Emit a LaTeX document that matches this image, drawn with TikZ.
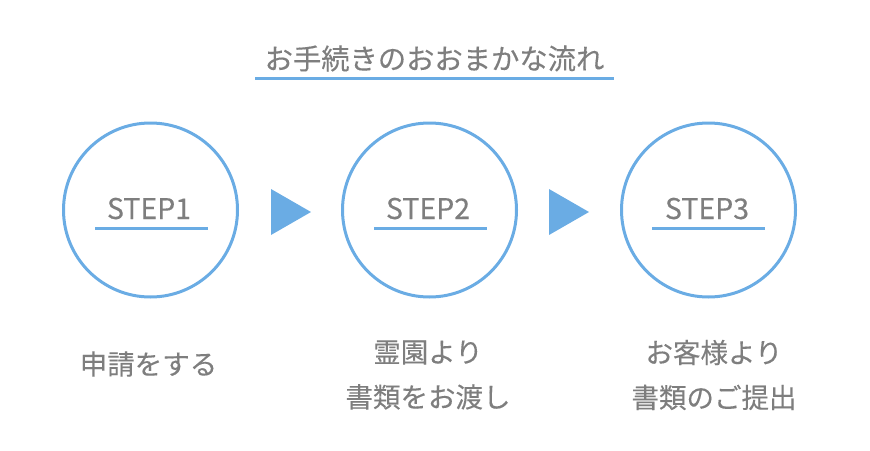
\documentclass[tikz,border=0pt]{standalone}
\usepackage{fontspec}
\setmainfont{Noto Sans CJK JP}
\newfontfamily\jpfont[FakeBold=0.25]{Noto Sans CJK JP}
\definecolor{stepblue}{HTML}{6AACE4}
\definecolor{stepgray}{HTML}{7E7E7E}
\tikzset{
  stepcircle/.style={circle, draw=stepblue, line width=3pt, minimum size=174pt, inner sep=0pt},
  steplabel/.style={text=stepgray, font=\jpfont\fontsize{28.5}{28.5}\selectfont, inner sep=0pt, anchor=base},
  stepline/.style={draw=stepblue, line width=3pt},
  arrowtri/.style={fill=stepblue, draw=none},
  desc/.style={text=stepgray, font=\jpfont\fontsize{27.5}{45}\selectfont, align=center, inner sep=0pt},
  titletext/.style={text=stepgray, font=\jpfont\fontsize{28.3}{30}\selectfont, inner sep=0pt}
}
\begin{document}
\begin{tikzpicture}[x=1pt,y=-1pt]
\useasboundingbox (0,0) rectangle (870,450);
% title
\node[titletext] (title) at (434.5,58.5) {お手続きのおおまかな流れ};
\coordinate (tl) at (255,78);
\coordinate (tr) at (614,78);
\draw[stepline] (tl) -- (tr);
% circles
\node[stepcircle] (c1) at (150.5,210) {};
\node[stepcircle] (c2) at (429.5,210) {};
\node[stepcircle] (c3) at (708.5,210) {};
% step labels
\node[steplabel] (s1) at (149,219) {STEP1};
\node[steplabel] (s2) at (428,219) {STEP2};
\node[steplabel] (s3) at (707,219) {STEP3};
\coordinate (u1l) at (95,228); \coordinate (u1r) at (208,228);
\coordinate (u2l) at (374,228); \coordinate (u2r) at (487,228);
\coordinate (u3l) at (652,228); \coordinate (u3r) at (765,228);
\draw[stepline] (u1l) -- (u1r);
\draw[stepline] (u2l) -- (u2r);
\draw[stepline] (u3l) -- (u3r);
% triangles
\coordinate (t1a) at (271,189); \coordinate (t1b) at (311,212); \coordinate (t1c) at (271,235);
\coordinate (t2a) at (549,189); \coordinate (t2b) at (589,212); \coordinate (t2c) at (549,235);
\fill[arrowtri] (t1a) -- (t1b) -- (t1c) -- cycle;
\fill[arrowtri] (t2a) -- (t2b) -- (t2c) -- cycle;
% descriptions
\node[desc] (d1) at (148.5,364) {申請をする};
\node[desc] (d2) at (428,375) {霊園より\\書類をお渡し};
\node[desc] (d3) at (714,375) {お客様より\\書類のご提出};
\end{tikzpicture}
\end{document}
